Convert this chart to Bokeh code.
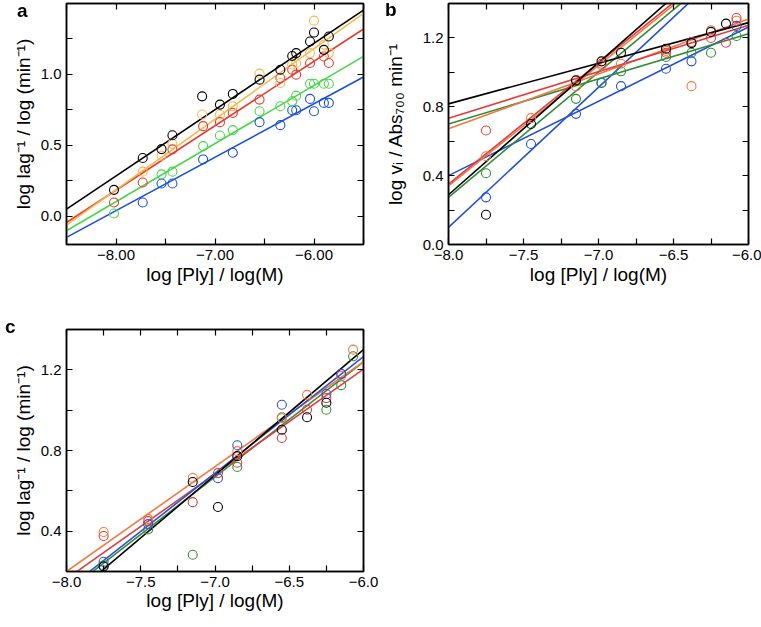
import numpy as np
from bokeh.plotting import figure
from bokeh.models import FixedTicker, CustomJSTickFormatter, LinearAxis, Range1d, Div
from bokeh.layouts import column, row
from bokeh.embed import file_html
from bokeh.resources import INLINE

FONT = "Liberation Sans"

# ---------------- Panel a data ----------------
a_black_x = [-8.02, -7.73, -7.54, -7.43, -7.13, -6.95, -6.82, -6.55, -6.34, -6.22, -6.18, -6.04, -6.00, -5.90, -5.85]
a_black_y = [0.185, 0.41, 0.473, 0.571, 0.845, 0.787, 0.862, 0.963, 1.033, 1.13, 1.15, 1.232, 1.295, 1.173, 1.267]
a_orange_x = [-7.73, -7.54, -7.43, -7.13, -6.95, -6.82, -6.55, -6.34, -6.22, -6.18, -6.04, -6.00, -5.90, -5.85]
a_orange_y = [0.314, 0.426, 0.51, 0.717, 0.717, 0.775, 1.005, 0.939, 1.07, 1.08, 1.15, 1.379, 1.21, 1.15]
a_red_x = [-8.02, -7.73, -7.43, -7.12, -6.95, -6.82, -6.55, -6.34, -6.22, -6.18, -6.04, -5.90, -5.85]
a_red_y = [0.096, 0.237, 0.471, 0.635, 0.663, 0.728, 0.822, 0.974, 1.033, 0.998, 1.08, 1.126, 1.08]
a_green_x = [-8.02, -7.54, -7.43, -7.12, -6.95, -6.82, -6.55, -6.34, -6.22, -6.18, -6.04, -6.00, -5.90, -5.85]
a_green_y = [0.019, 0.295, 0.314, 0.494, 0.569, 0.607, 0.74, 0.775, 0.81, 0.85, 0.934, 0.934, 0.934, 0.934]
a_blue_x = [-7.73, -7.54, -7.43, -7.12, -6.82, -6.55, -6.34, -6.22, -6.18, -6.04, -6.00, -5.90, -5.85]
a_blue_y = [0.096, 0.23, 0.23, 0.40, 0.447, 0.663, 0.642, 0.747, 0.747, 0.827, 0.74, 0.799, 0.799]
# linear fits (slope, intercept)
a_fit_slope = {"black": 0.468, "orange": 0.498, "red": 0.455, "green": 0.41, "blue": 0.377}
a_fit_icept = {"black": 4.027, "orange": 4.170, "red": 3.8225, "green": 3.382, "blue": 3.0545}
a_colors = {"black": "#000000", "orange": "#F7B84B", "red": "#E63B2E", "green": "#4CD44C", "blue": "#1A4FD8"}

# ---------------- Panel b data ----------------
b_black_x = [-7.75, -7.45, -7.15, -6.98, -6.85, -6.55, -6.38, -6.25, -6.15]
b_black_y = [0.173, 0.70, 0.953, 1.064, 1.114, 1.137, 1.17, 1.235, 1.283]
b_blue_x = [-7.75, -7.45, -7.15, -6.98, -6.85, -6.55, -6.38, -6.08]
b_blue_y = [0.274, 0.584, 0.759, 0.938, 0.92, 1.021, 1.064, 1.27]
b_red_x = [-7.75, -7.15, -6.98, -6.55, -6.38, -6.25, -6.15, -6.08]
b_red_y = [0.662, 0.955, 1.05, 1.114, 1.176, 1.20, 1.172, 1.316]
b_orange_x = [-7.75, -7.45, -7.15, -6.98, -6.85, -6.55, -6.38, -6.25, -6.08]
b_orange_y = [0.513, 0.734, 0.918, 1.04, 1.05, 1.125, 0.92, 1.245, 1.30]
b_green_x = [-7.75, -7.15, -6.98, -6.85, -6.55, -6.38, -6.25, -6.08]
b_green_y = [0.414, 0.846, 0.94, 1.006, 1.089, 1.114, 1.114, 1.211]
# two-regime fits: steep (low conc.) and shallow (high conc.)
b_steep_slope = {"black": 0.767, "red": 0.703, "orange": 0.70, "green": 0.727, "blue": 0.814}
b_steep_icept = {"black": 6.425, "red": 5.975, "orange": 5.94, "green": 6.09, "blue": 6.611}
b_shallow_slope = {"black": 0.236, "red": 0.27, "orange": 0.319, "green": 0.262, "blue": 0.432}
b_shallow_icept = {"black": 2.705, "red": 2.894, "orange": 3.224, "green": 2.796, "blue": 3.856}
b_colors = {"black": "#000000", "blue": "#2450D0", "red": "#E23D3D", "orange": "#EE7B45", "green": "#2E8B36"}

# ---------------- Panel c data ----------------
c_black_x = [-7.75, -7.15, -6.98, -6.85, -6.55, -6.38, -6.25]
c_black_y = [0.225, 0.644, 0.52, 0.772, 0.903, 0.965, 1.037]
c_blue_x = [-7.75, -7.45, -6.98, -6.85, -6.55, -6.25, -6.15]
c_blue_y = [0.248, 0.435, 0.663, 0.826, 1.027, 1.08, 1.18]
c_orange_x = [-7.75, -7.45, -7.15, -6.85, -6.55, -6.38, -6.15, -6.07]
c_orange_y = [0.396, 0.461, 0.664, 0.797, 0.96, 1.076, 1.17, 1.30]
c_red_x = [-7.75, -7.45, -7.15, -6.98, -6.85, -6.55, -6.38, -6.25]
c_red_y = [0.376, 0.45, 0.544, 0.688, 0.739, 0.862, 1.002, 1.06]
c_green_x = [-7.75, -7.45, -7.15, -6.85, -6.55, -6.25, -6.15, -6.07]
c_green_y = [0.23, 0.408, 0.283, 0.718, 0.965, 1.002, 1.124, 1.267]
c_fit_slope = {"orange": 0.52, "red": 0.52, "blue": 0.578, "green": 0.57, "black": 0.622}
c_fit_icept = {"orange": 4.36, "red": 4.3236, "blue": 4.734, "green": 4.659, "black": 5.032}
c_colors = {"black": "#000000", "blue": "#2E52D0", "red": "#DD3E3E", "orange": "#EE7B45", "green": "#3A8C3A"}

# axis tick settings
a_xticks, a_xminor = [-8, -7, -6], [-8.5, -7.5, -6.5, -5.5]
a_yticks, a_yminor = [0.0, 0.5, 1.0], [0.25, 0.75, 1.25]
b_xticks, b_xminor = [-8, -7.5, -7, -6.5, -6], [-7.75, -7.25, -6.75, -6.25]
b_yticks, b_yminor = [0.0, 0.4, 0.8, 1.2], [0.2, 0.6, 1.0]
c_xticks, c_xminor = b_xticks, b_xminor
c_yticks, c_yminor = [0.4, 0.8, 1.2], [0.6, 1.0]

XLABEL = "log [Ply] / log(M)"
panel_letters = ["a", "b", "c"]


def fmt(decimals):
    return CustomJSTickFormatter(
        code="return tick.toFixed(%d).replace('-', '\u2212');" % decimals)


def style_axis(ax, ticks, minor, decimals, label=None, hidden=False, label_standoff=4):
    ax.ticker = FixedTicker(ticks=ticks, minor_ticks=minor)
    ax.major_tick_in = 6
    ax.major_tick_out = 0
    ax.minor_tick_in = 6
    ax.minor_tick_out = 0
    ax.major_tick_line_color = "black"
    ax.minor_tick_line_color = "black"
    ax.major_tick_line_width = 1.2
    ax.minor_tick_line_width = 1.2
    ax.axis_line_color = "black"
    ax.axis_line_width = 1.5
    if hidden:
        ax.formatter = CustomJSTickFormatter(code="return '';")
        ax.major_label_text_font_size = "1px"
        ax.major_label_standoff = 0
        ax.axis_label = None
    else:
        ax.formatter = fmt(decimals)
        ax.major_label_text_font = FONT
        ax.major_label_text_font_size = "15px"
        ax.major_label_text_color = "black"
        ax.major_label_standoff = 5
        ax.axis_label = label
        ax.axis_label_text_font = FONT
        ax.axis_label_text_font_size = "19px"
        ax.axis_label_text_font_style = "normal"
        ax.axis_label_text_color = "black"
        ax.axis_label_standoff = label_standoff


def make_panel(xr, yr, fw, fh, borders, xt, xm, xd, yt, ym, yd, ylabel,
               ystandoff=4, xstandoff=1):
    l, r, t, b = borders
    p = figure(frame_width=fw, frame_height=fh,
               x_range=Range1d(*xr), y_range=Range1d(*yr),
               output_backend="svg", toolbar_location=None,
               min_border_left=l, min_border_right=r,
               min_border_top=t, min_border_bottom=b)
    p.grid.visible = False
    p.outline_line_color = "black"
    p.outline_line_width = 1.5
    p.background_fill_color = "white"
    p.border_fill_color = "white"
    style_axis(p.xaxis[0], xt, xm, xd, XLABEL, label_standoff=xstandoff)
    style_axis(p.yaxis[0], yt, ym, yd, ylabel, label_standoff=ystandoff)
    top = LinearAxis()
    style_axis(top, xt, xm, xd, hidden=True)
    p.add_layout(top, "above")
    right = LinearAxis()
    style_axis(right, yt, ym, yd, hidden=True)
    p.add_layout(right, "right")
    return p


def add_series(p, xs, ys, color):
    p.scatter(xs, ys, size=9, marker="circle", fill_color=None,
              line_color=color, line_width=1.1)


def add_fit(p, xr, slope, icept, color):
    xx = np.array(xr, dtype=float)
    p.line(xx, slope * xx + icept, line_color=color, line_width=1.6)


# ---------------- Panel a ----------------
a_xr, a_yr = (-8.5, -5.5), (-0.2, 1.5)
pa = make_panel(a_xr, a_yr, 297, 241, (66, 17, 3, 50),
                a_xticks, a_xminor, 2, a_yticks, a_yminor, 1,
                "log lag\u207b\u00b9 / log (min\u207b\u00b9)")
a_series = {"black": (a_black_x, a_black_y), "orange": (a_orange_x, a_orange_y),
            "red": (a_red_x, a_red_y), "green": (a_green_x, a_green_y),
            "blue": (a_blue_x, a_blue_y)}
for k in ["blue", "green", "red", "orange", "black"]:
    add_fit(pa, a_xr, a_fit_slope[k], a_fit_icept[k], a_colors[k])
for k in ["blue", "green", "red", "orange", "black"]:
    add_series(pa, a_series[k][0], a_series[k][1], a_colors[k])

# ---------------- Panel b ----------------
b_xr, b_yr = (-8.0, -6.0), (0.0, 1.4)
pb = make_panel(b_xr, b_yr, 300, 241, (68, 13, 0, 53),
                b_xticks, b_xminor, 1, b_yticks, b_yminor, 1,
                "log v\u1d62 / Abs\u2087\u2080\u2080 min\u207b\u00b9", ystandoff=14)
b_series = {"black": (b_black_x, b_black_y), "blue": (b_blue_x, b_blue_y),
            "red": (b_red_x, b_red_y), "orange": (b_orange_x, b_orange_y),
            "green": (b_green_x, b_green_y)}
for k in ["blue", "green", "orange", "red", "black"]:
    add_fit(pb, b_xr, b_steep_slope[k], b_steep_icept[k], b_colors[k])
    add_fit(pb, b_xr, b_shallow_slope[k], b_shallow_icept[k], b_colors[k])
for k in ["blue", "green", "orange", "red", "black"]:
    add_series(pb, b_series[k][0], b_series[k][1], b_colors[k])

# ---------------- Panel c ----------------
c_xr, c_yr = (-8.0, -6.0), (0.2, 1.4)
pc = make_panel(c_xr, c_yr, 297, 242, (66, 17, 35, 40),
                c_xticks, c_xminor, 1, c_yticks, c_yminor, 1,
                "log lag\u207b\u00b9 / log (min\u207b\u00b9)", xstandoff=0)
c_series = {"black": (c_black_x, c_black_y), "blue": (c_blue_x, c_blue_y),
            "red": (c_red_x, c_red_y), "orange": (c_orange_x, c_orange_y),
            "green": (c_green_x, c_green_y)}
for k in ["green", "red", "orange", "blue", "black"]:
    add_fit(pc, c_xr, c_fit_slope[k], c_fit_icept[k], c_colors[k])
for k in ["green", "red", "orange", "blue", "black"]:
    add_series(pc, c_series[k][0], c_series[k][1], c_colors[k])

# panel letters (bold), overlaid at the top-left of each panel
letter_pos = [(17, 1), (385, 0), (5, 317)]
spans = "".join(
    '<span style="position:fixed;left:%dpx;top:%dpx;z-index:10;'
    'font-family:\'Liberation Sans\',Arial,sans-serif;font-weight:bold;'
    'font-size:19px;line-height:19px;color:#000;">%s</span>' % (x, y, t)
    for (x, y), t in zip(letter_pos, panel_letters))
letters = Div(text=spans, width=1, height=0, styles={"overflow": "visible"})

layout = column(row(pa, pb), pc, letters)

open("out.html", "w").write(file_html(layout, INLINE))
